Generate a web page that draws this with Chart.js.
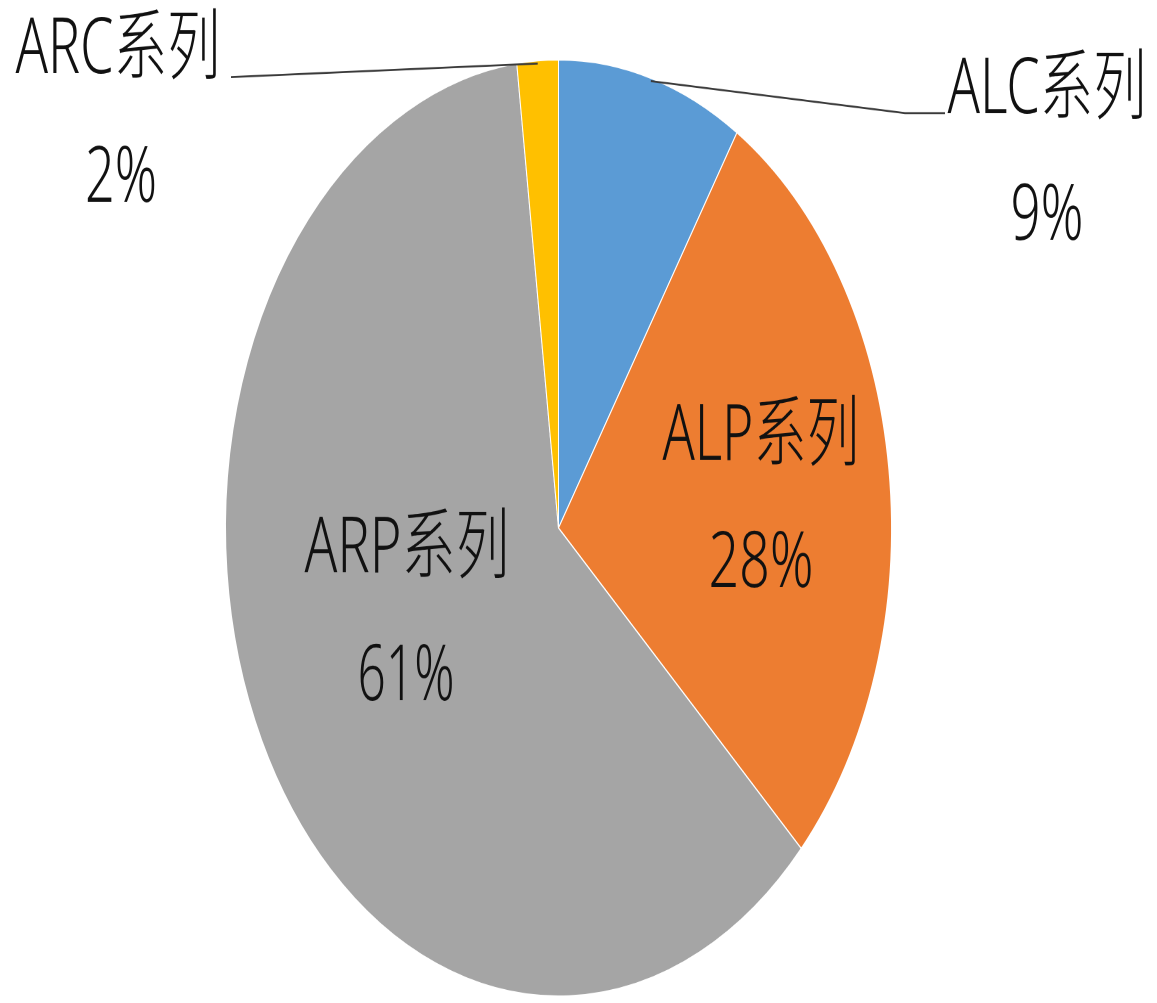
<!DOCTYPE html>
<html>
<head>
<meta charset="utf-8">
<script src="https://cdn.jsdelivr.net/npm/chart.js@4/dist/chart.umd.min.js"></script>
<style>
  html, body { margin: 0; padding: 0; background: #fff; overflow: hidden; }
  /* the original pie is an upright ellipse, so the whole canvas is stretched vertically */
  #wrap { position: absolute; left: 0; top: 0; width: 1157px; height: 713px;
          transform: scale(1, 1.406); transform-origin: 0 0; }
</style>
</head>
<body>
<div id="wrap"><canvas id="pie" width="1157" height="713"></canvas></div>
<script>
const seriesNames = ['ALC系列', 'ALP系列', 'ARP系列', 'ARC系列'];
const shares = [9, 28, 61, 2];
const sliceColors = ['#5B9BD5', '#ED7D31', '#A5A5A5', '#FFC000'];

// label placement, offsets from pie centre (canvas px, before stretch)
const labelLayout = [
  { name: [488.5, -295.1], pct: [488.5, -204.8], nameW: 199, pctW: 73,
    leader: [[346.5, -295.1], [386.5, -295.1]] },
  { name: [202.5, -48.3], pct: [202.5, 42], nameW: 197, pctW: 105 },
  { name: [-151.5, 31.3], pct: [-152.5, 122.4], nameW: 205, pctW: 97 },
  { name: [-440.5, -323.6], pct: [-437.5, -231.8], nameW: 205, pctW: 72,
    leader: [[-327.5, -320.7]] }
];

const pieLabels = {
  id: 'pieLabels',
  afterDatasetsDraw(chart) {
    const ctx = chart.ctx;
    const meta = chart.getDatasetMeta(0);
    ctx.save();
    meta.data.forEach((arc, i) => {
      const cx = arc.x, cy = arc.y;
      const lay = labelLayout[i];
      if (lay.leader) {
        const mid = (arc.startAngle + arc.endAngle) / 2;
        const r = arc.outerRadius - 2;
        ctx.beginPath();
        ctx.moveTo(cx + Math.cos(mid) * r, cy + Math.sin(mid) * r);
        lay.leader.forEach(p => ctx.lineTo(cx + p[0], cy + p[1]));
        ctx.strokeStyle = '#3a3a3a';
        ctx.lineWidth = 1.4;
        ctx.stroke();
      }
      ctx.fillStyle = '#111';
      ctx.textAlign = 'center';
      ctx.textBaseline = 'alphabetic';
      ctx.font = '300 55px "Noto Sans", "Noto Sans CJK SC", sans-serif';
      ctx.fillText(seriesNames[i], cx + lay.name[0], cy + lay.name[1], lay.nameW);
      ctx.fillText(shares[i] + '%', cx + lay.pct[0], cy + lay.pct[1], lay.pctW);
    });
    ctx.restore();
  }
};

new Chart(document.getElementById('pie'), {
  type: 'pie',
  data: {
    labels: seriesNames,
    datasets: [{
      data: shares,
      backgroundColor: sliceColors,
      borderColor: '#ffffff',
      borderWidth: 1
    }]
  },
  options: {
    responsive: false,
    animation: false,
    devicePixelRatio: 2,
    layout: { padding: { left: 225, right: 265, top: 42, bottom: 4 } },
    plugins: {
      legend: { display: false },
      tooltip: { enabled: false }
    }
  },
  plugins: [pieLabels]
});
</script>
</body>
</html>
